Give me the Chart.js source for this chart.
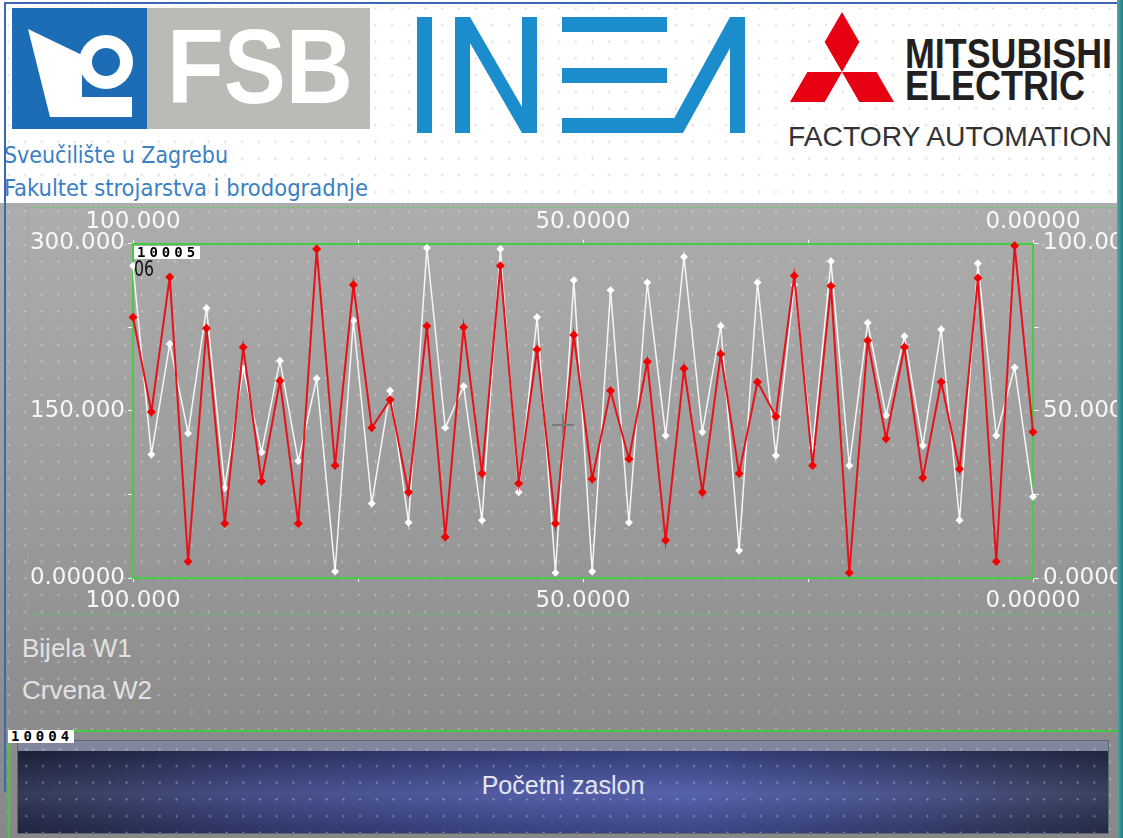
<!DOCTYPE html>
<html>
<head>
<meta charset="utf-8">
<script src="https://cdn.jsdelivr.net/npm/chart.js@4.4.1/dist/chart.umd.min.js"></script>
<style>
  html, body { margin: 0; padding: 0; }
  body { width: 1123px; height: 838px; position: relative; overflow: hidden; background: #8a8a8a; font-family: 'Liberation Sans', Arial, sans-serif; }
  #screen { position: absolute; left: 0; top: 200px; width: 1123px; height: 638px; background: linear-gradient(#adadad 0%, #9c9c9c 45%, #8c8c8c 82%, #888888 100%); }
  .dots { position: absolute; background-image: radial-gradient(circle, rgba(255,255,255,0.32) 0.9px, transparent 1.4px); background-size: 16.7px 16.7px; }
  #header { position: absolute; left: 0; top: 0; width: 1123px; height: 203px; background: #fff; }
  #header .hdots { position: absolute; inset: 0; background-image: radial-gradient(circle, rgba(0,0,0,0.13) 0.9px, transparent 1.4px); background-size: 16.7px 16.7px; }
  #frameTop { position: absolute; left: 4px; top: 2px; width: 1113px; height: 2px; background: #3d67b2; }
  #frameLeft { position: absolute; left: 4px; top: 2px; width: 2px; height: 790px; background: #3d67b2; }
  #frameRight { position: absolute; left: 1117px; top: 0; width: 6px; height: 838px; background: linear-gradient(90deg, #5aa6a8, #1f7c82); }
  #dashBox { position: absolute; left: 27px; top: 207px; width: 1089px; height: 406px; border: 1px dashed rgba(90,210,90,0.85); }
  #trend { position: absolute; left: 0; top: 200px; }
  .tag { position: absolute; height: 13px; background: #fff; color: #000; font: bold 14px 'DejaVu Sans Mono', monospace; line-height: 13px; padding: 0 1px 0 3px; letter-spacing: 4px; }
  #d06 { position: absolute; left: 134px; top: 257px; color: #111; font: 21px 'DejaVu Sans', sans-serif; transform: scaleX(0.75); transform-origin: left; }
  .cross-h { position: absolute; left: 552px; top: 424px; width: 22px; height: 2px; background: #7a7a7a; }
  .cross-v { position: absolute; left: 562px; top: 414px; width: 2px; height: 22px; background: #7a7a7a; }
  .legendText { position: absolute; left: 22px; color: #e2e2e2; font-size: 26px; }
  #greenBox { position: absolute; left: 8px; top: 730px; width: 1107px; height: 120px; border: 2px solid #45c845; border-bottom: none; }
  #btn { position: absolute; left: 18px; top: 741px; width: 1090px; height: 92px;
    background: linear-gradient(90deg, #262d4c 0%, #39427f 22%, #4652a0 48%, #4956a6 62%, #3d4780 82%, #2c3454 100%);
    box-shadow: inset 0 10px 0 #80869c, 0 0 0 1px #5e6478; }
  #btn .shade { position: absolute; left: 0; top: 10px; right: 0; bottom: 0; background: linear-gradient(rgba(0,0,0,0.28) 0%, rgba(255,255,255,0.07) 52%, rgba(0,0,0,0.2) 100%); }
  #btn .label { position: absolute; left: 0; right: 0; top: 30px; text-align: center; color: #e4e7f2; font-size: 25px; }
</style>
</head>
<body>
<div id="screen"></div>
<div class="dots" style="left:0;top:203px;width:1117px;height:635px;"></div>

<div id="header">
  <div class="hdots"></div>
  <svg width="1123" height="203" viewBox="0 0 1123 203" style="position:absolute;left:0;top:0">
    <!-- FSB -->
    <rect x="12" y="8" width="135" height="121" fill="#1c6db6"/>
    <polygon points="28,29 82,55 82,97 132,97 132,117 50,117" fill="#fff"/>
    <circle cx="106" cy="62" r="27" fill="#fff"/>
    <circle cx="106" cy="62" r="14" fill="#1c6db6"/>
    <rect x="147" y="8" width="223" height="121" fill="#bbbbb6"/>
    <text x="167" y="103" font-family="Liberation Sans, Arial" font-weight="bold" font-size="105" fill="#fff" textLength="186" lengthAdjust="spacingAndGlyphs">FSB</text>
    <text x="4" y="163" font-family="DejaVu Sans Condensed, DejaVu Sans, sans-serif" font-size="23" fill="#3a80c4" textLength="224" lengthAdjust="spacingAndGlyphs">Sveučilište u Zagrebu</text>
    <text x="4" y="196" font-family="DejaVu Sans Condensed, DejaVu Sans, sans-serif" font-size="23" fill="#3a80c4" textLength="364" lengthAdjust="spacingAndGlyphs">Fakultet strojarstva i brodogradnje</text>
    <!-- INEA -->
    <g fill="#1b8ccc">
      <rect x="417" y="17" width="15" height="116"/>
      <polygon points="455,17 470,17 537,133 522,133"/>
      <rect x="455" y="17" width="15" height="116"/>
      <rect x="522" y="17" width="15" height="116"/>
      <rect x="562" y="17" width="105" height="15"/>
      <rect x="562" y="68" width="105" height="15"/>
      <rect x="562" y="118" width="112" height="15"/>
      <polygon points="666,133 730,17 745,17 745,133 730,133 730,48 683,133"/>
    </g>
    <!-- Mitsubishi -->
    <g fill="#e60012">
      <polygon points="842,12 859.3,42 842,72 824.7,42"/>
      <polygon points="842,72 876.6,72 894,102 859.3,102"/>
      <polygon points="842,72 807.4,72 790,102 824.7,102"/>
    </g>
    <text x="905" y="68" font-family="Liberation Sans Narrow, Liberation Sans, Arial" font-weight="bold" font-size="42" fill="#231f20" textLength="207" lengthAdjust="spacingAndGlyphs">MITSUBISHI</text>
    <text x="905" y="100" font-family="Liberation Sans Narrow, Liberation Sans, Arial" font-weight="bold" font-size="42" fill="#231f20" textLength="180" lengthAdjust="spacingAndGlyphs">ELECTRIC</text>
    <text x="788" y="146" font-family="Liberation Sans, Arial" font-size="28" fill="#333" textLength="324" lengthAdjust="spacingAndGlyphs">FACTORY AUTOMATION</text>
  </svg>
</div>

<div id="dashBox"></div>
<canvas id="trend" width="1123" height="420"></canvas>
<div class="tag" style="left:134px;top:246px;">10005</div>
<div id="d06">06</div>
<div class="cross-h"></div><div class="cross-v"></div>

<div class="legendText" style="top:633px;">Bijela W1</div>
<div class="legendText" style="top:675px;">Crvena W2</div>

<div id="greenBox"></div>
<div id="btn"><div class="shade"></div><div class="dots" style="left:0;top:0;right:0;bottom:0;"></div><div class="label">Početni zaslon</div></div>
<div class="tag" style="left:8px;top:730px;">10004</div>

<div id="frameTop"></div>
<div id="frameLeft"></div>
<div id="frameRight"></div>

<script>
// sample slots of the trend buffer (oldest left)
const samples = [1, 2, 3, 4, 5, 6, 7, 8, 9, 10, 11, 12, 13, 14, 15, 16, 17, 18, 19, 20,
  21, 22, 23, 24, 25, 26, 27, 28, 29, 30, 31, 32, 33, 34, 35, 36, 37, 38, 39, 40,
  41, 42, 43, 44, 45, 46, 47, 48, 49, 50];

// Bijela W1 (white)
const bijelaW1 = [280, 111, 210, 130, 242, 81, 188, 113, 195, 105, 179, 6, 231,
  67, 168, 50, 296, 135, 172, 52, 295, 77, 234, 5, 267,
  6, 258, 50, 265, 128, 288, 131, 226, 25, 265, 110, 263,
  117, 284, 101, 229, 146, 217, 119, 223, 52, 282, 128, 189, 73];

// Crvena W2 (red)
const crvenaW2 = [234, 149, 270, 15, 224, 49, 207, 87, 177, 49, 295, 101, 263,
  135, 160, 77, 226, 37, 225, 94, 280, 85, 205, 49, 218,
  89, 168, 107, 194, 34, 188, 77, 201, 94, 176, 145, 271,
  101, 262, 5, 213, 125, 207, 90, 176, 98, 269, 15, 298, 131];

// axis ranges as shown on the panel
const timeRange = [0, 100];
const leftRange = [0, 300];
const rightRange = [0, 100];

const labelColor = 'rgba(255,255,255,0.92)';
const labelFont = { family: "'DejaVu Sans', sans-serif", size: 23 };
const frameGreen = '#41cf41';

function sixDigits(step) {
  return v => (v % step === 0 ? Number(v).toPrecision(6) : '');
}

function timeAxis(position, h, pad) {
  return {
    type: 'linear',
    position: position,
    min: timeRange[0],
    max: timeRange[1],
    reverse: true,
    afterFit: s => { s.height = h; },
    ticks: { stepSize: 25, autoSkip: false, maxRotation: 0, padding: pad, color: labelColor, font: labelFont, callback: sixDigits(50) },
    grid: { drawOnChartArea: false, drawTicks: true, tickLength: 4, color: 'rgba(255,255,255,0.85)' },
    border: { display: true, color: frameGreen, width: 2 }
  };
}

new Chart(document.getElementById('trend'), {
  type: 'line',
  data: {
    labels: samples,
    datasets: [
      {
        label: 'Bijela W1',
        data: bijelaW1,
        borderColor: '#f6f6f6',
        backgroundColor: '#ffffff',
        borderWidth: 1.5,
        pointStyle: 'rectRot',
        pointRadius: 4,
        pointBorderWidth: 0,
        tension: 0,
        clip: false,
        order: 2,
        xAxisID: 'x',
        yAxisID: 'y'
      },
      {
        label: 'Crvena W2',
        data: crvenaW2,
        borderColor: '#e8111a',
        backgroundColor: '#f20000',
        borderWidth: 2,
        pointStyle: 'rectRot',
        pointRadius: 4.5,
        pointBorderWidth: 0,
        tension: 0,
        clip: false,
        order: 1,
        xAxisID: 'x',
        yAxisID: 'y'
      }
    ]
  },
  options: {
    responsive: false,
    animation: false,
    layout: { padding: 0 },
    plugins: { legend: { display: false }, tooltip: { enabled: false } },
    scales: {
      x: { type: 'category', display: false, offset: false },
      xTop: timeAxis('top', 43.5, 4),
      xBottom: timeAxis('bottom', 41.7, 5),
      y: {
        position: 'left',
        min: leftRange[0],
        max: leftRange[1],
        afterFit: s => { s.width = 133; },
        ticks: { stepSize: 75, autoSkip: false, padding: 3, color: labelColor, font: labelFont, callback: sixDigits(150) },
        grid: { drawOnChartArea: false, drawTicks: true, tickLength: 5, color: 'rgba(255,255,255,0.85)' },
        border: { display: true, color: frameGreen, width: 2 }
      },
      yRight: {
        position: 'right',
        min: rightRange[0],
        max: rightRange[1],
        afterFit: s => { s.width = 90; },
        ticks: { stepSize: 25, autoSkip: false, padding: 4, color: labelColor, font: labelFont, callback: sixDigits(50) },
        grid: { drawOnChartArea: false, drawTicks: true, tickLength: 6, color: 'rgba(255,255,255,0.85)' },
        border: { display: true, color: frameGreen, width: 2 }
      }
    }
  }
});
</script>
</body>
</html>
